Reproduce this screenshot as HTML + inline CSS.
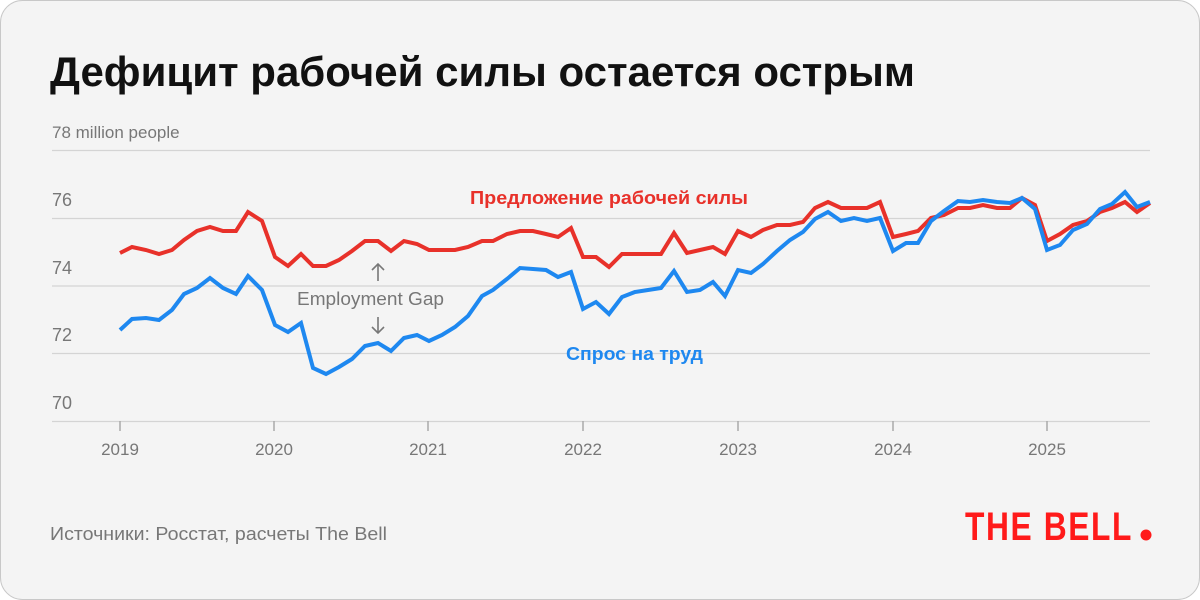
<!DOCTYPE html>
<html><head><meta charset="utf-8"><style>
html,body{margin:0;padding:0;background:#fff;}
svg{display:block;}
text{font-family:"Liberation Sans",sans-serif;}
</style></head><body>
<svg width="1200" height="600" viewBox="0 0 1200 600" xmlns="http://www.w3.org/2000/svg">
<rect x="0.5" y="0.5" width="1199" height="599" rx="22" fill="#f4f4f4" stroke="#c8c8c8"/>
<text x="50" y="86" font-size="42" font-weight="bold" fill="#111" textLength="865" lengthAdjust="spacingAndGlyphs">Дефицит рабочей силы остается острым</text>
<text x="52" y="138" font-size="17" fill="#777">78 million people</text>
<g stroke="#d4d4d4" stroke-width="1.3">
<line x1="52" y1="150.5" x2="1150" y2="150.5"/>
<line x1="52" y1="218.5" x2="1150" y2="218.5"/>
<line x1="52" y1="286" x2="1150" y2="286"/>
<line x1="52" y1="353.5" x2="1150" y2="353.5"/>
<line x1="52" y1="421.5" x2="1150" y2="421.5"/>
</g>
<g font-size="18" fill="#777">
<text x="52" y="206">76</text><text x="52" y="274">74</text><text x="52" y="341">72</text><text x="52" y="409">70</text>
</g>
<g stroke="#aaa" stroke-width="1.5">
<line x1="120" y1="421" x2="120" y2="431"/><line x1="274" y1="421" x2="274" y2="431"/><line x1="428" y1="421" x2="428" y2="431"/><line x1="583" y1="421" x2="583" y2="431"/><line x1="738" y1="421" x2="738" y2="431"/><line x1="893" y1="421" x2="893" y2="431"/><line x1="1047" y1="421" x2="1047" y2="431"/>
</g>
<g font-size="17" fill="#777" text-anchor="middle">
<text x="120" y="455">2019</text><text x="274" y="455">2020</text><text x="428" y="455">2021</text><text x="583" y="455">2022</text><text x="738" y="455">2023</text><text x="893" y="455">2024</text><text x="1047" y="455">2025</text>
</g>
<polyline fill="none" stroke="#e8312a" stroke-width="4" stroke-linejoin="miter" points="120,253 132,247 146,250 159,254 172,250 184,240 197,231 210,227 223,231 236,231 248,212 262,221 275,257 288,266 301,254 313,266 326,266 339,260 352,251 365,241 378,241 391,251 404,241 417,244 429,250 442,250 455,250 468,247 482,241 493,241 507,234 520,231 533,231 546,234 558,237 571,228 583,257 596,257 609,267 622,254 635,254 648,254 661,254 674,233 687,253 700,250 713,247 725,254 738,231 751,237 763,230 777,225 790,225 803,222 815,208 828,202 841,208 854,208 867,208 880,202 893,237 906,234 918,231 931,218 944,215 958,208 970,208 983,205 997,208 1010,208 1022,198 1035,205 1047,241 1060,234 1073,225 1087,221 1100,212 1112,208 1125,202 1137,212 1150,203"/>
<polyline fill="none" stroke="#1e88f0" stroke-width="4" stroke-linejoin="miter" points="120,330 132,319 146,318 159,320 172,310 184,294 197,288 210,278 223,288 236,294 248,276 262,290 275,325 288,332 301,323 313,368 326,374 339,367 352,359 365,346 378,343 391,351 404,338 417,335 429,341 442,335 455,327 468,316 482,296 493,290 507,279 520,268 533,269 546,270 558,277 571,272 583,309 596,302 609,314 622,297 635,292 648,290 661,288 674,271 687,292 700,290 713,282 725,296 738,270 751,273 763,264 777,251 790,240 803,232 815,219 828,212 841,221 854,218 867,221 880,218 893,251 906,243 918,243 931,221 944,211 958,201 970,202 983,200 997,202 1010,203 1022,198 1035,209 1047,250 1060,245 1073,230 1087,224 1100,209 1112,204 1125,192 1137,207 1150,202"/>
<text x="470" y="204" font-size="18" font-weight="bold" fill="#e8312a" textLength="278" lengthAdjust="spacingAndGlyphs">Предложение рабочей силы</text>
<text x="566" y="360" font-size="18" font-weight="bold" fill="#1e88f0" textLength="137" lengthAdjust="spacingAndGlyphs">Спрос на труд</text>
<text x="297" y="305" font-size="18" fill="#777" textLength="147" lengthAdjust="spacingAndGlyphs">Employment Gap</text>
<g stroke="#777" stroke-width="1.6" fill="none">
<line x1="378" y1="264" x2="378" y2="281"/><polyline points="372,270 378,264 384,270"/>
<line x1="378" y1="317" x2="378" y2="333"/><polyline points="372,327 378,333 384,327"/>
</g>
<text x="50" y="540" font-size="18" fill="#777" textLength="337" lengthAdjust="spacingAndGlyphs">Источники: Росстат, расчеты The Bell</text>
<text x="965" y="540" font-size="40" font-weight="900" fill="#ff1a1a" textLength="168" lengthAdjust="spacingAndGlyphs" letter-spacing="2">THE BELL</text>
<circle cx="1146" cy="535" r="5.5" fill="#ff1a1a"/>
</svg>
</body></html>
